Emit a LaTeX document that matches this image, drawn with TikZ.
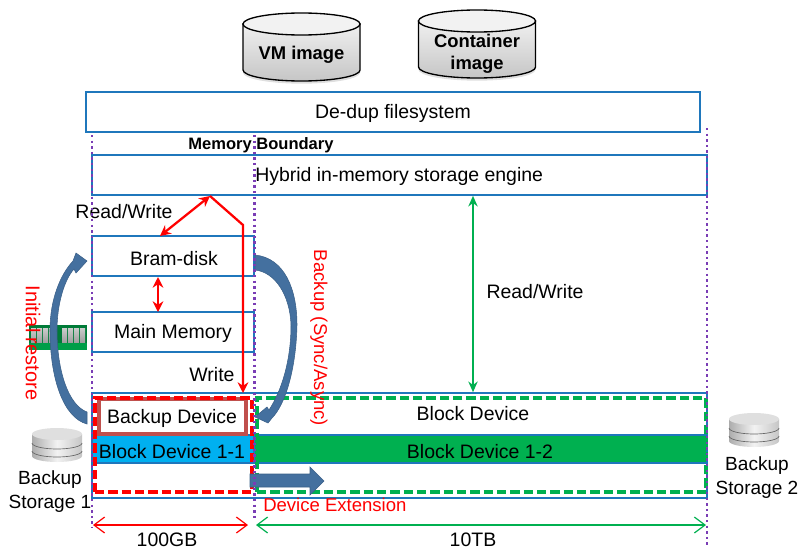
\documentclass[tikz,border=0pt]{standalone}
\usepackage{fontspec}
\setmainfont{Liberation Sans}
\usetikzlibrary{arrows.meta,fit,shadows}

\definecolor{line_blue}{HTML}{1F77BC}
\definecolor{fill_blue}{HTML}{00B0F0}
\definecolor{fill_green}{HTML}{00B050}
\definecolor{curve_blue}{HTML}{44709F}
\definecolor{dot_purple}{HTML}{7A3DB5}
\definecolor{backup_red}{HTML}{C0504D}

\begin{document}
\begin{tikzpicture}[
    x=0.75pt, y=-0.75pt,
    box_style/.style={draw=line_blue, inner sep=0pt, line width=1.2pt},
    label_style/.style={font=\fontsize{14.6}{16}\selectfont, inner sep=0pt, yshift=-0.9pt},
    red_label/.style={label_style, red, font=\fontsize{13.9}{15}\selectfont, yshift=0.9pt},
    image_label/.style={font=\bfseries\fontsize{13.8}{16.5}\selectfont, align=center, inner sep=0pt, yshift=-1.4pt},
    area_style/.style={inner sep=0pt, draw=#1, dash pattern=on 7pt off 3pt, line width=2.4pt},
    red_double/.style={red, line width=1.7pt, {Stealth[length=8pt,width=8pt]}-{Stealth[length=8pt,width=8pt]}},
    red_single/.style={red, line width=1.7pt, -{Stealth[length=8pt,width=8pt]}},
    green_double/.style={fill_green, line width=1.5pt, {Stealth[length=8pt,width=7pt]}-{Stealth[length=8pt,width=7pt]}},
    size_red/.style={red, line width=0.9pt, {Straight Barb[length=8pt,width=12pt]}-{Straight Barb[length=8pt,width=12pt]}},
    size_green/.style={fill_green, line width=0.9pt, {Straight Barb[length=8pt,width=12pt]}-{Straight Barb[length=8pt,width=12pt]}},
    dotted_style/.style={dot_purple, line width=1.8pt, dash pattern=on 1.8pt off 2.4pt},
    curve_style/.style={fill=curve_blue, draw=curve_blue!85!black, line width=0.4pt},
]

    \useasboundingbox (0,0) rectangle (799,550);

    % #1: centre x, #2: top y
    \def\drawimagedisk#1#2{
        \fill[drop shadow={opacity=0.25, shadow xshift=0pt, shadow yshift=-2pt}, white] (#1-58.5,#2+11) -- (#1-58.5,#2+57) arc[start angle=180, end angle=360, x radius=43.9pt, y radius=8.25pt] -- (#1+58.5,#2+11) -- cycle;
        \draw[black, line width=1pt, top color=gray!12, bottom color=gray!45] (#1-58.5,#2+11) -- (#1-58.5,#2+57) arc[start angle=180, end angle=360, x radius=43.9pt, y radius=8.25pt] -- (#1+58.5,#2+11) -- cycle;
        \draw[black, line width=1pt, fill=gray!10] (#1,#2+11) ellipse[x radius=43.9pt, y radius=8.25pt];
    }
    % #1: centre x, #2: top y
    \def\drawbackupdisk#1#2{
        \shade[left color=gray!65, right color=gray!45, middle color=gray!10] (#1-25,#2+6) -- (#1-25,#2+28) arc[start angle=180, end angle=360, x radius=18.75pt, y radius=4.5pt] -- (#1+25,#2+6) -- cycle;
        \fill[gray!25] (#1,#2+6) ellipse[x radius=18.75pt, y radius=4.5pt];
        \draw[gray!80!black, line width=0.5pt] (#1-25,#2+15) arc[start angle=180, end angle=360, x radius=18.75pt, y radius=4.5pt];
        \draw[gray!80!black, line width=0.5pt] (#1-25,#2+23) arc[start angle=180, end angle=360, x radius=18.75pt, y radius=4.5pt];
    }

    % --- Images on top ---
    \drawimagedisk{301.5}{13}
    \drawimagedisk{477}{10}
    \node[image_label] (vm_image) at (301.5,53) {VM image};
    \node[image_label] (container_image) at (477,52) {Container\\image};

    % --- Upper layers ---
    \node[box_style, fit={(86,92)(700,132)}, line width=1.5pt] (dedup) {};
    \node[label_style] (dedup_text) at (393,112) {De-dup filesystem};
    \node[box_style, fit={(92,155)(707,195)}] (hybrid) {};
    \node[label_style, anchor=west] (hybrid_text) at (255,175) {Hybrid in-memory storage engine};
    \node[box_style, fit={(92,236)(254,276)}] (bram) {};
    \node[label_style] (bram_text) at (174,257) {Bram-disk};
    \node[box_style, fit={(92,312)(254,352)}] (memory) {};
    \node[label_style] (memory_text) at (173,332) {Main Memory};

    % --- Block device ---
    \node[box_style, fit={(92,393)(707,498)}] (block) {};
    \node[label_style] (block_text) at (473,412) {Block Device};
    \node[box_style, fill=fill_blue, fit={(92,435)(254,463)}] (block_a) {};
    \node[label_style] (block_a_text) at (172,450) {Block Device 1-1};
    \node[box_style, fill=fill_green, fit={(254,435)(707,463)}] (block_b) {};
    \node[label_style] (block_b_text) at (480,450) {Block Device 1-2};
    \node[inner sep=0pt, fit={(99,399)(246,434)}, draw=backup_red, line width=2.4pt] (backup_device) {};
    \node[label_style] (backup_text) at (172,417) {Backup Device};
    \node[fit={(95,398)(252,492)}, area_style=red] (red_area) {};
    \node[fit={(257,398)(706,492)}, area_style=fill_green] (green_area) {};
    \fill[curve_style] (250,474) -- (310,474) -- (310,467) -- (324,481) -- (310,495) -- (310,487) -- (250,487) -- cycle;
    \node[red_label, anchor=west] (extend_text) at (263,505) {Device Extension};

    % --- Memory module ---
    \fill[fill_green!70!black] (29,325) rectangle (87,349);
    \fill[fill_green!90!black] (29,343) rectangle (87,350);
    \foreach \chipx in {31,37,43,49,62,68,74,80}
        \fill[top color=gray!40, bottom color=gray!75] (\chipx,328) rectangle (\chipx+5,342);

    % --- Backup storage ---
    \drawbackupdisk{57}{428}
    \drawbackupdisk{754}{413}
    \node[label_style, align=center, font=\fontsize{14.3}{18}\selectfont] (storage_a) at (50,490) {Backup\\Storage 1};
    \node[label_style, align=center, font=\fontsize{14.3}{18}\selectfont] (storage_b) at (757,476) {Backup\\Storage 2};

    % --- Curved arrows ---
    \fill[curve_style] (87,424) .. controls (64,418) and (50,380) .. (50,330) .. controls (50,300) and (60,275) .. (73,261) -- (76,253) -- (87,261) -- (76,273) -- (74,269) .. controls (64,280) and (57,305) .. (57,330) .. controls (57,370) and (68,405) .. (87,412) -- cycle;
    \fill[curve_style] (255,255) .. controls (285,258) and (297,290) .. (297,325) .. controls (296,370) and (285,405) .. (272,418) -- (268,423) -- (255,417) -- (267,407) -- (269,410) .. controls (282,390) and (291,360) .. (291,325) .. controls (290,295) and (275,272) .. (255,270) -- cycle;

    % --- Read and write paths ---
    \coordinate (rw_top) at (210,196);
    \coordinate (rw_bram) at (160,236);
    \coordinate (rw_knee) at (243,225);
    \coordinate (rw_block) at (243,393);
    \coordinate (bram_low) at (158,277);
    \coordinate (memory_up) at (158,312);
    \draw[red_double] (rw_top) -- (rw_bram);
    \draw[red_single] (rw_top) -- (rw_knee) -- (rw_block);
    \draw[red_double] (bram_low) -- (memory_up);
    \draw[green_double] (hybrid.south -| block_text) -- (block.north -| block_text);

    \node[label_style] (read_write_a) at (124,210) {Read/Write};
    \node[label_style] (read_write_b) at (535,290) {Read/Write};
    \node[label_style] (write_text) at (212,373) {Write};
    \node[red_label, rotate=-90, font=\fontsize{15}{17}\selectfont] (restore_text) at (33,343) {Initial restore};
    \node[red_label, rotate=-90] (sync_text) at (319,338) {Backup (Sync/Async)};
    \node[font=\bfseries\fontsize{12.4}{14}\selectfont, inner sep=0pt, yshift=-1.4pt] (boundary_text) at (261,143) {Memory Boundary};

    % --- Boundaries ---
    \draw[dotted_style] (92,135) -- (92,528);
    \draw[dotted_style] (254.5,135) -- (254.5,520);
    \draw[dotted_style] (707,128) -- (707,545);

    % --- Sizes ---
    \draw[size_red] (93,525) -- (248,525);
    \draw[size_green] (256,525) -- (706,525);
    \node[label_style] (size_a) at (167,539) {100GB};
    \node[label_style] (size_b) at (473,539) {10TB};

\end{tikzpicture}
\end{document}
